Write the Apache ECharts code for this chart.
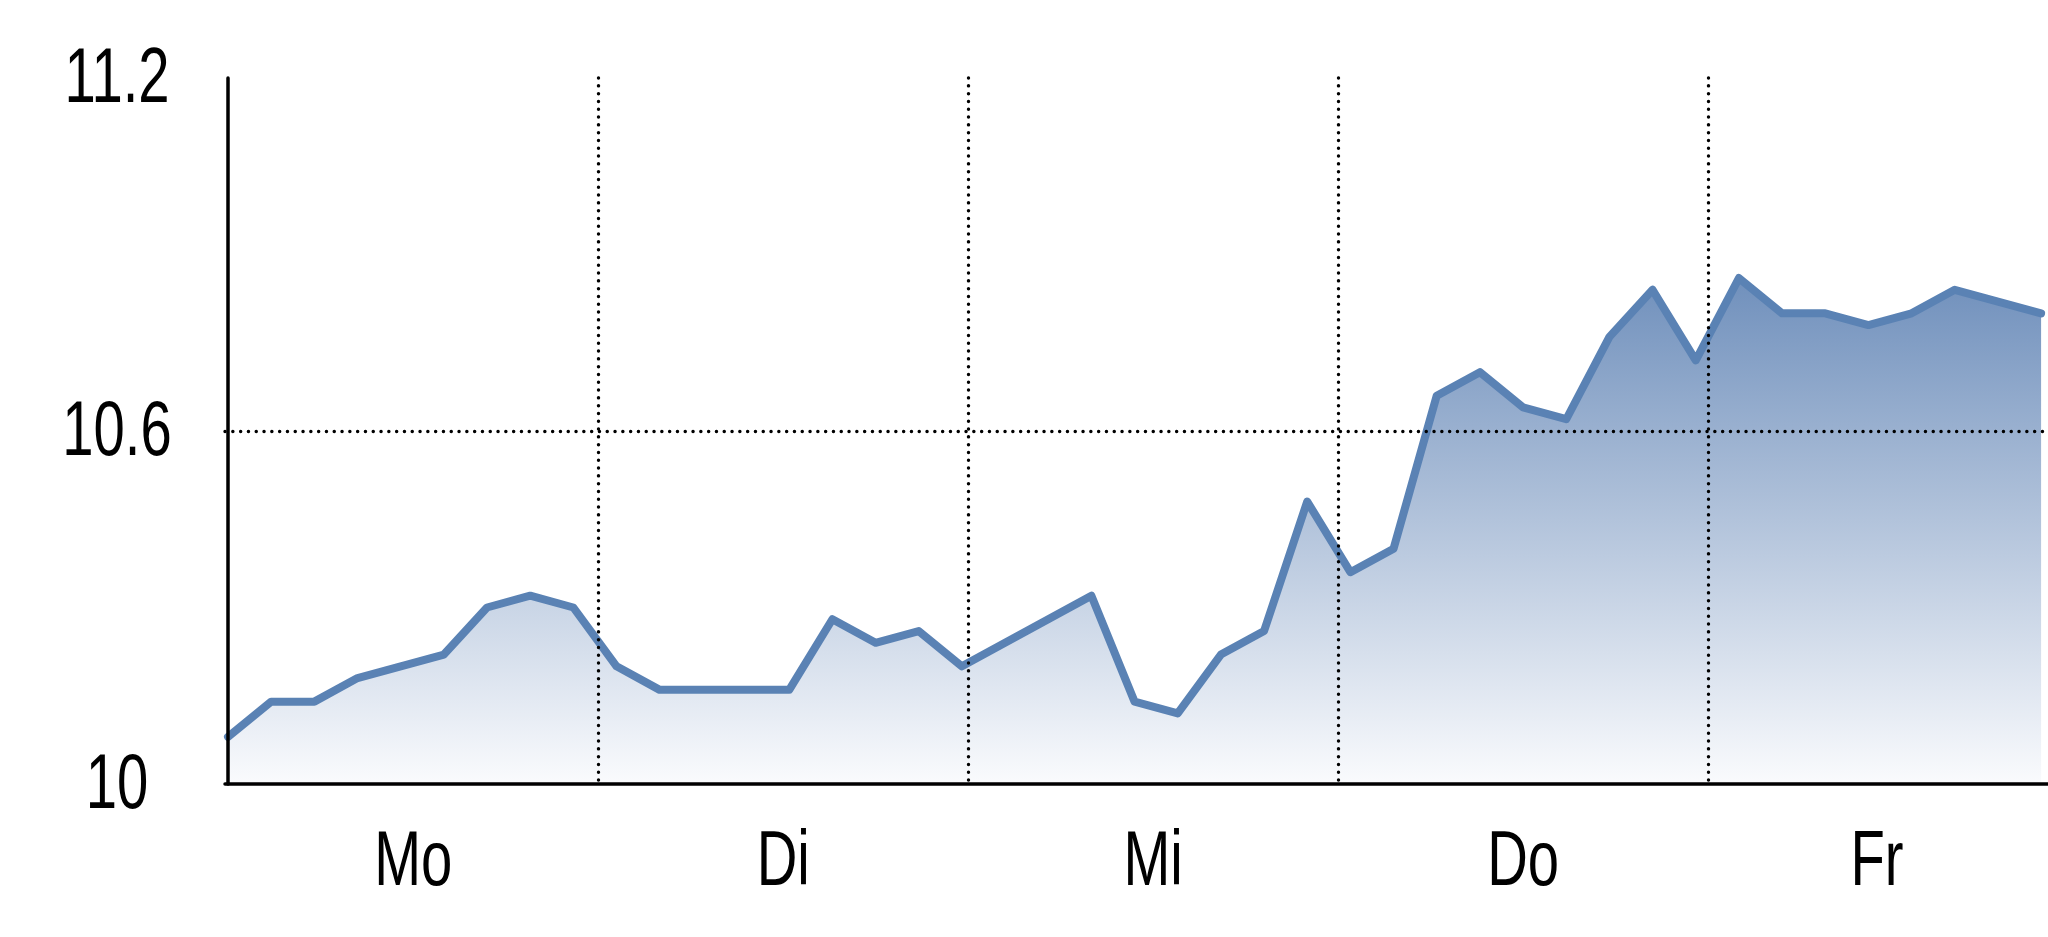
<!DOCTYPE html>
<html>
<head>
<meta charset="utf-8">
<script src="https://cdn.jsdelivr.net/npm/echarts@6/dist/echarts.min.js"></script>
<style>
html,body{margin:0;padding:0;background:#fff;}
#chart{width:2048px;height:937px;}
</style>
</head>
<body>
<div id="chart"></div>
<script>
// Data (one point per regular time step, Mon..Fri)
const values = [
  10.08, 10.14, 10.14, 10.18, 10.20, 10.22, 10.30, 10.32, 10.30, 10.20,
  10.16, 10.16, 10.16, 10.16, 10.28, 10.24, 10.26, 10.20, 10.24, 10.28,
  10.32, 10.14, 10.12, 10.22, 10.26, 10.48, 10.36, 10.40, 10.66, 10.70,
  10.64, 10.62, 10.76, 10.84, 10.72, 10.86, 10.80, 10.80, 10.78, 10.80,
  10.84, 10.82, 10.80
];
const dayNames = ['Mo', 'Di', 'Mi', 'Do', 'Fr'];
const dayBoundaries = [8.57, 17.14, 25.71, 34.28];
const dayLabelPositions = [4.29, 12.86, 21.43, 30.0, 38.2];
const yTicks = [10, 10.6, 11.2];
const yTickLabels = ['10', '10.6', '11.2'];
const xMin = -0.07, xMax = 42.16;

const points = values.map((v, i) => [i, v]);
const FONT = "'Liberation Sans', Arial, sans-serif";
const LABEL_SIZE = 77;
const NARROW = 0.73;

const chart = echarts.init(document.getElementById('chart'), null, {renderer: 'canvas'});
const dotted = {color: '#000', width: 3.4, type: [0.1, 7.7], cap: 'round'};
chart.setOption({
  backgroundColor: '#ffffff',
  animation: false,
  grid: {left: 225, right: 0, top: 78, bottom: 153, containLabel: false},
  xAxis: {
    type: 'value',
    z: 5,
    min: xMin,
    max: xMax,
    axisLine: {show: true, onZero: false, lineStyle: {color: '#000', width: 3.5}},
    axisTick: {show: false, customValues: dayBoundaries},
    splitLine: {show: true, lineStyle: dotted},
    axisLabel: {show: false}
  },
  yAxis: {
    type: 'value',
    z: 5,
    min: yTicks[0],
    max: yTicks[yTicks.length - 1],
    interval: yTicks[1] - yTicks[0],
    axisLine: {show: true, lineStyle: {color: '#000', width: 3.5}},
    axisTick: {show: false},
    splitLine: {show: true, showMinLine: false, showMaxLine: false, lineStyle: dotted},
    axisLabel: {show: false}
  },
  series: [{
    type: 'line',
    data: points,
    symbol: 'none',
    z: 2,
    lineStyle: {color: '#5a82b4', width: 8, cap: 'round', join: 'round'},
    areaStyle: {
      opacity: 1,
      color: new echarts.graphic.LinearGradient(0, 0, 0, 1, [
        {offset: 0, color: 'rgb(112,144,188)'},
        {offset: 1, color: 'rgb(250,251,253)'}
      ])
    }
  }]
});

// Axis labels drawn as condensed text, placed through the axes' own scales
function placeLabels() {
  const baseY = chart.convertToPixel({yAxisIndex: 0}, yTicks[0]);
  const leftX = chart.convertToPixel({xAxisIndex: 0}, xMin);
  const els = [];
  yTicks.forEach((t, i) => {
    els.push({
      type: 'text',
      x: leftX - 108,
      y: chart.convertToPixel({yAxisIndex: 0}, t) + 3,
      scaleX: NARROW,
      silent: true,
      style: {text: yTickLabels[i], fill: '#000', fontFamily: FONT, fontSize: LABEL_SIZE,
              align: 'center', verticalAlign: 'middle'}
    });
  });
  dayLabelPositions.forEach((p, i) => {
    els.push({
      type: 'text',
      x: chart.convertToPixel({xAxisIndex: 0}, p),
      y: baseY + 80,
      scaleX: NARROW,
      silent: true,
      style: {text: dayNames[i], fill: '#000', fontFamily: FONT, fontSize: LABEL_SIZE,
              align: 'center', verticalAlign: 'middle'}
    });
  });
  chart.setOption({graphic: els});
}
placeLabels();
</script>
</body>
</html>
